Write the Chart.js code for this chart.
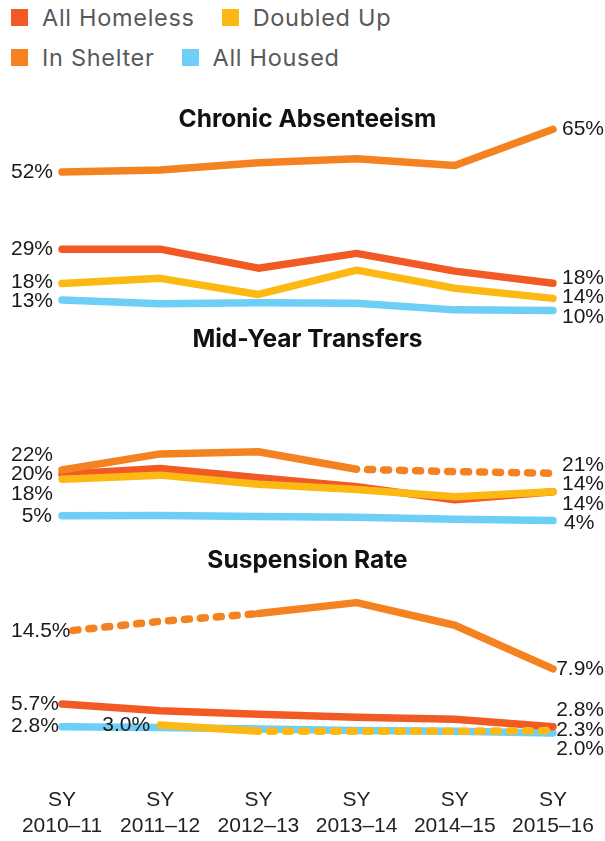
<!DOCTYPE html>
<html>
<head>
<meta charset="utf-8">
<script src="https://cdn.jsdelivr.net/npm/chart.js@4.4.1/dist/chart.umd.min.js"></script>
<style>
  html, body { margin: 0; padding: 0; background: #fff; }
  body { width: 605px; height: 841px; position: relative; overflow: hidden; }
  .legend { position: absolute; left: 11px; top: 4px; font-family: Inter, "Liberation Sans", sans-serif; font-size: 23.5px; color: #58595b; letter-spacing: 0.7px; }
  .legend-row { display: flex; align-items: center; height: 26px; margin-bottom: 14.5px; }
  .legend-item { display: flex; align-items: center; margin-right: 27px; }
  .legend-swatch { width: 17px; height: 17px; margin-right: 14px; }
  canvas { position: absolute; left: 0; }
</style>
</head>
<body>
<div class="legend" id="legend"></div>
<canvas id="absenteeismChart" width="605" height="265" style="top:80px"></canvas>
<canvas id="transfersChart" width="605" height="230" style="top:305px"></canvas>
<canvas id="suspensionChart" width="605" height="314" style="top:525px"></canvas>
<script>
// Categories and series
const schoolYears = ['2010–11', '2011–12', '2012–13', '2013–14', '2014–15', '2015–16'];
const seriesNames = ['All Homeless', 'Doubled Up', 'In Shelter', 'All Housed'];
const seriesColors = ['#f15a24', '#fdb913', '#f58220', '#6dcff6'];

// Chronic absenteeism (%)
const absenteeismHomeless = [28.5, 28.5, 22.7, 27.2, 21.8, 18.1];
const absenteeismDoubledUp = [18.0, 19.6, 14.7, 22.1, 16.6, 13.5];
const absenteeismShelter = [52.0, 52.6, 54.8, 56.0, 54.0, 65.0];
const absenteeismHoused = [13.0, 11.9, 12.2, 12.0, 10.0, 9.8];
const absenteeismStartLabels = ['29%', '18%', '52%', '13%'];
const absenteeismEndLabels = ['18%', '14%', '65%', '10%'];

// Mid-year transfers (%)
const transfersHomeless = [20.4, 22.6, 19.1, 15.8, 10.9, 13.9];
const transfersDoubledUp = [18.6, 20.1, 16.7, 14.8, 12.1, 13.9];
const transfersShelter = [22.0, 28.0, 28.8, 22.3, 21.4, 20.8];
const transfersHoused = [5.0, 5.1, 4.7, 4.4, 3.7, 3.2];
const transfersStartLabels = ['20%', '18%', '22%', '5%'];
const transfersEndLabels = ['14%', '14%', '21%', '4%'];

// Suspension rate (%)
const suspensionHomeless = [5.7, 4.85, 4.4, 4.0, 3.75, 2.8];
const suspensionDoubledUp = [null, 3.0, 2.2, 2.2, 2.2, 2.3];
const suspensionShelter = [15.0, 16.3, 17.3, 18.7, 15.8, 10.2];
const suspensionHoused = [2.8, 2.7, 2.5, 2.3, 2.2, 2.0];
const suspensionStartLabels = ['5.7%', '3.0%', '14.5%', '2.8%'];
const suspensionEndLabels = ['2.8%', '2.3%', '7.9%', '2.0%'];

// Which segments are drawn dotted (segment i joins point i and i+1)
const transfersShelterDotted = [false, false, false, true, true];
const suspensionShelterDotted = [true, true, false, false, false];
const suspensionDoubledUpDotted = [false, false, true, true, true];

const dotPattern = [5, 11];
const drawOrder = [2, 1, 0, 3]; // lower = drawn on top

// Legend (two rows, like the original)
const legend = document.getElementById('legend');
[[0, 1], [2, 3]].forEach(row => {
    const rowEl = document.createElement('div');
    rowEl.className = 'legend-row';
    row.forEach(i => {
        const item = document.createElement('div');
        item.className = 'legend-item';
        item.innerHTML = '<span class="legend-swatch" style="background:' + seriesColors[i] + '"></span>' + seriesNames[i];
        rowEl.appendChild(item);
    });
    legend.appendChild(rowEl);
});

// Push overlapping labels apart, keeping each cluster centred on its points
function spreadLabels(items, gap) {
    items.sort((a, b) => a.y - b.y);
    let clusters = items.map(it => ({ members: [it], top: it.y }));
    let merged = true;
    while (merged) {
        merged = false;
        for (let i = 1; i < clusters.length; i++) {
            const a = clusters[i - 1], b = clusters[i];
            const aBottom = a.top + (a.members.length - 1) * gap;
            if (b.top - aBottom < gap) {
                const members = a.members.concat(b.members);
                const mean = members.reduce((s, m) => s + m.y, 0) / members.length;
                clusters.splice(i - 1, 2, { members, top: mean - (members.length - 1) * gap / 2 });
                merged = true;
                break;
            }
        }
    }
    clusters.forEach(c => c.members.forEach((m, k) => { m.ly = c.top + k * gap; }));
}

const endLabelsPlugin = {
    id: 'endLabels',
    afterDatasetsDraw(chart, args, opts) {
        const ctx = chart.ctx;
        const groups = {};
        chart.data.datasets.forEach((ds, i) => {
            const meta = chart.getDatasetMeta(i);
            const first = ds.data.findIndex(v => v !== null);
            const last = ds.data.length - 1;
            [['left', first, opts.start[i]], ['right', last, opts.end[i]]].forEach(([side, idx, text]) => {
                const pt = meta.data[idx];
                const key = side + idx;
                (groups[key] = groups[key] || []).push({ side, x: pt.x, y: pt.y, text });
            });
        });
        ctx.save();
        ctx.font = '21px "Liberation Sans", Arial, sans-serif';
        ctx.fillStyle = '#1a1a1a';
        ctx.textBaseline = 'middle';
        Object.values(groups).forEach(items => {
            spreadLabels(items, 19.5);
            items.forEach(it => {
                const w = ctx.measureText(it.text).width;
                if (it.side === 'left') {
                    ctx.textAlign = 'right';
                    ctx.fillText(it.text, Math.max(it.x - 10, 11 + w), it.ly);
                } else {
                    ctx.textAlign = 'left';
                    ctx.fillText(it.text, Math.min(it.x + 11, chart.width - 1 - w), it.ly);
                }
            });
        });
        ctx.restore();
    }
};

function buildDatasets(values, dotted) {
    const isDotted = (i, ctx) => !!(dotted[i] && dotted[i][ctx.p0DataIndex]);
    return values.map((data, i) => ({
        label: seriesNames[i],
        data: data,
        borderColor: seriesColors[i],
        backgroundColor: seriesColors[i],
        borderWidth: 7.5,
        borderCapStyle: 'round',
        borderJoinStyle: 'round',
        pointRadius: 0,
        pointHoverRadius: 0,
        tension: 0,
        clip: false,
        order: drawOrder[i],
        segment: {
            borderDash: ctx => isDotted(i, ctx) ? dotPattern : undefined,
            borderDashOffset: ctx => isDotted(i, ctx) ? 5 : undefined
        }
    }));
}

function makePanel(canvasId, cfg) {
    new Chart(document.getElementById(canvasId), {
        type: 'line',
        data: {
            labels: schoolYears.map(y => ['SY', y]),
            datasets: buildDatasets(cfg.values, cfg.dotted)
        },
        options: {
            responsive: false,
            animation: false,
            devicePixelRatio: 1,
            events: [],
            layout: {
                padding: { left: 62, right: 52, top: 0, bottom: cfg.bottomPad }
            },
            plugins: {
                legend: { display: false },
                tooltip: { enabled: false },
                title: {
                    display: true,
                    text: cfg.title,
                    color: '#111',
                    font: { family: 'Inter, "Liberation Sans", sans-serif', size: 24.5, weight: '700', lineHeight: 1.2 },
                    padding: cfg.titlePad
                },
                endLabels: { start: cfg.startLabels, end: cfg.endLabels }
            },
            scales: {
                x: {
                    type: 'category',
                    offset: false,
                    display: cfg.showYears,
                    grid: { display: false, drawTicks: true, tickLength: 38.5 },
                    border: { display: false },
                    ticks: {
                        autoSkip: false,
                        maxRotation: 0,
                        padding: 0,
                        color: '#222',
                        font: { family: '"Liberation Sans", Arial, sans-serif', size: 21, lineHeight: 1.25 }
                    },
                    afterFit: scale => { if (cfg.showYears) scale.height = 90.5; }
                },
                y: { display: false, min: 0, max: cfg.max }
            }
        },
        plugins: [endLabelsPlugin]
    });
}

makePanel('absenteeismChart', {
    title: 'Chronic Absenteeism',
    values: [absenteeismHomeless, absenteeismDoubledUp, absenteeismShelter, absenteeismHoused],
    dotted: [],
    startLabels: absenteeismStartLabels,
    endLabels: absenteeismEndLabels,
    max: 60,
    titlePad: { top: 24.6, bottom: 11.7 },
    bottomPad: 2.3,
    showYears: false
});

makePanel('transfersChart', {
    title: 'Mid-Year Transfers',
    values: [transfersHomeless, transfersDoubledUp, transfersShelter, transfersHoused],
    dotted: [null, null, transfersShelterDotted, null],
    startLabels: transfersStartLabels,
    endLabels: transfersEndLabels,
    max: 60,
    titlePad: { top: 20.3, bottom: 13.1 },
    bottomPad: 5.8,
    showYears: false
});

makePanel('suspensionChart', {
    title: 'Suspension Rate',
    values: [suspensionHomeless, suspensionDoubledUp, suspensionShelter, suspensionHoused],
    dotted: [null, suspensionDoubledUpDotted, suspensionShelterDotted, null],
    startLabels: suspensionStartLabels,
    endLabels: suspensionEndLabels,
    max: 20,
    titlePad: { top: 21.3, bottom: 16.8 },
    bottomPad: 0,
    showYears: true
});
</script>
</body>
</html>
